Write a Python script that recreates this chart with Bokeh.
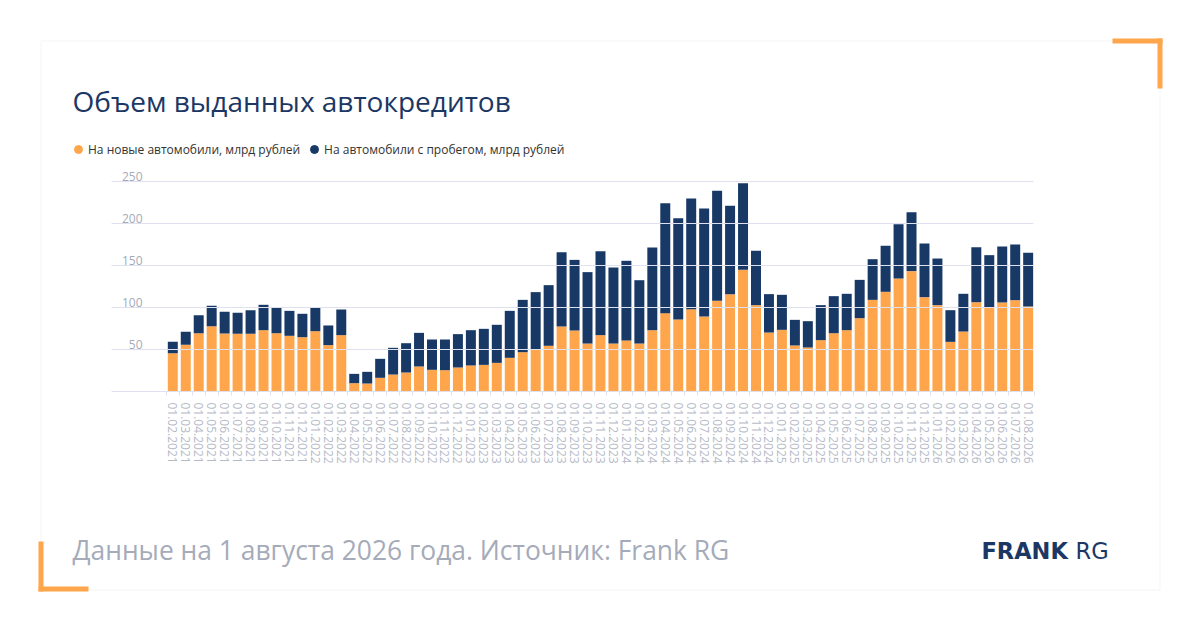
import pandas as pd
from bokeh.plotting import figure
from bokeh.models import (ColumnDataSource, Range1d, LinearAxis, FixedTicker,
                          Label, BoxAnnotation, Legend, LegendItem)
from bokeh.embed import file_html
from bokeh.resources import INLINE

# месяцы 01.02.2021 ... 01.08.2026
months = pd.date_range("2021-02-01", "2026-08-01", freq="MS").strftime("%d.%m.%Y").tolist()

# на новые автомобили, млрд рублей
new_cars = [45.6, 55.6, 69.4, 77.8, 69.0, 68.7, 68.7, 73.0, 69.4, 66.3, 64.7, 71.8, 55.2, 67.1,
            9.9, 9.5, 16.3, 20.2, 22.6, 29.8, 25.8, 25.4, 28.6, 31.0, 31.7, 34.1, 40.1, 46.8,
            50.4, 54.4, 77.4, 72.6, 57.1, 67.1, 57.1, 60.7, 57.1, 73.0, 93.3, 85.7, 98.0, 89.3,
            107.9, 115.9, 144.8, 102.8, 70.2, 73.4, 54.8, 52.4, 61.1, 69.4, 73.0, 87.3, 109.1,
            118.7, 134.5, 143.3, 112.3, 102.8, 59.1, 71.4, 106.3, 100.4, 106.0, 108.7, 101.2]

# на автомобили с пробегом, млрд рублей
used_cars = [13.5, 15.4, 21.5, 24.2, 25.8, 25.0, 28.1, 30.2, 30.2, 29.7, 27.8, 28.2, 23.4, 30.5,
             11.1, 13.9, 22.6, 31.8, 34.9, 40.0, 36.1, 36.5, 39.7, 42.0, 42.9, 45.3, 55.9, 62.3,
             67.9, 72.2, 88.5, 84.1, 85.0, 99.9, 90.5, 94.9, 75.4, 98.4, 130.9, 120.6, 131.8, 128.6,
             131.0, 105.1, 103.2, 64.7, 45.7, 41.7, 30.5, 31.3, 41.7, 44.1, 43.3, 45.6, 48.4,
             54.7, 64.7, 70.2, 63.9, 55.5, 37.7, 44.9, 65.5, 61.9, 66.6, 66.3, 63.9]

y_ticks = [50, 100, 150, 200, 250]
grid_ticks = [0, 50, 100, 150, 200, 250]

ORANGE = "#ffa54b"
NAVY = "#183866"
GRID = "#dfe2ee"
TITLE = "#1c3764"

W, H = 1200, 630
# пикселей на месяц / на млрд, положение первого столбца и нуля
px_x, x0_px = 12.96, 172.3
px_y, y0_px = 0.84, 391
x_start = -x0_px / px_x
x_end = x_start + W / px_x
y_start = -(H - y0_px) / px_y
y_end = y0_px / px_y
grid_left = (111 - x0_px) / px_x      # левый край сетки
grid_len = 922                         # длина линий сетки, px

idx = list(range(len(months)))
source = ColumnDataSource(data={"x": idx, "new": new_cars, "used": used_cars})

p = figure(
    width=W, height=H,
    x_range=Range1d(x_start, x_end),
    y_range=Range1d(y_start, y_end),
    x_axis_location=None, y_axis_location=None,
    output_backend="svg",
    toolbar_location=None,
    min_border=0,
)
p.outline_line_color = None
p.background_fill_color = "white"
p.border_fill_color = "white"
p.grid.visible = False

# линии сетки (тики оси, вытянутые вправо)
gax = LinearAxis(fixed_location=grid_left, ticker=FixedTicker(ticks=grid_ticks))
gax.axis_line_color = None
gax.major_tick_line_color = GRID
gax.major_tick_in = grid_len
gax.major_tick_out = 0
gax.minor_tick_line_color = None
gax.major_label_text_alpha = 0
gax.major_label_text_font_size = "1px"
p.add_layout(gax, "left")

# подписи оси Y чуть выше линий сетки
p.extra_y_ranges = {"lab": Range1d(y_start - 5.4, y_end - 5.4)}
yax = LinearAxis(y_range_name="lab", fixed_location=(142 - x0_px) / px_x,
                 ticker=FixedTicker(ticks=y_ticks))
yax.axis_line_color = None
yax.major_tick_line_color = None
yax.minor_tick_line_color = None
yax.major_tick_out = 0
yax.major_tick_in = 0
yax.major_label_standoff = 0
yax.major_label_text_font = "Open Sans"
yax.major_label_text_font_size = "12px"
yax.major_label_text_color = "#a4aab8"
p.add_layout(yax, "left")

# ось X
xax = LinearAxis(fixed_location=0, bounds=(-0.5, len(idx) - 0.5),
                 ticker=FixedTicker(ticks=idx, minor_ticks=[i + 0.5 for i in range(-1, len(idx))]))
xax.major_label_overrides = {i: m for i, m in enumerate(months)}
xax.major_label_orientation = "vertical"
xax.axis_line_color = None
xax.major_tick_line_color = None
xax.major_tick_out = 0
xax.major_tick_in = 0
xax.minor_tick_line_color = GRID
xax.minor_tick_out = 4
xax.minor_tick_in = 0
xax.major_label_standoff = 7
xax.major_label_text_font = "Open Sans"
xax.major_label_text_font_size = "12px"
xax.major_label_text_color = "#b5bac7"
p.add_layout(xax, "below")

p.vbar_stack(["new", "used"], x="x", width=0.77, source=source,
             color=[ORANGE, NAVY], line_color=None)

# легенда (маркеры-пустышки, точки вне графика не рисуются)
nan = float("nan")
r_new = p.scatter(x=[nan], y=[nan], marker="circle", size=8, color=ORANGE)
r_used = p.scatter(x=[nan], y=[nan], marker="circle", size=8, color=NAVY)
legend = Legend(items=[
    LegendItem(label="На новые автомобили, млрд рублей", renderers=[r_new]),
    LegendItem(label="На автомобили с пробегом, млрд рублей", renderers=[r_used]),
], orientation="horizontal", location=(68, 471))
legend.border_line_color = None
legend.background_fill_alpha = 0
legend.padding = 0
legend.margin = 0
legend.spacing = 4
legend.glyph_width = 20
legend.glyph_height = 20
legend.label_height = 20
legend.label_standoff = 0
legend.label_text_font = "Open Sans"
legend.label_text_font_size = "12px"
legend.label_text_color = "#333333"
p.add_layout(legend)

# карточка и оранжевые уголки
p.add_layout(BoxAnnotation(left=40.5, right=1159.5, top=589.5, bottom=40.5,
                           left_units="screen", right_units="screen",
                           top_units="screen", bottom_units="screen",
                           fill_color=None, line_color="#d9d9d9", line_width=1))
corners = [(1112, 1162, 592, 587), (1157, 1162, 592, 542),
           (38, 43, 89, 39), (38, 88, 44, 39)]
for l, r, t, b in corners:
    p.add_layout(BoxAnnotation(left=l, right=r, top=t, bottom=b,
                               left_units="screen", right_units="screen",
                               top_units="screen", bottom_units="screen",
                               fill_color=ORANGE, fill_alpha=1, line_color=None))

# тексты
p.add_layout(Label(x=72, y=530, x_units="screen", y_units="screen",
                   text="Объем выданных автокредитов", text_font="Open Sans",
                   text_font_size="28px", text_color=TITLE, text_baseline="alphabetic"))
p.add_layout(Label(x=72, y=81, x_units="screen", y_units="screen",
                   text="Данные на 1 августа 2026 года. Источник: Frank RG",
                   text_font="Open Sans", text_font_size="26.4px", text_color="#a5abb9",
                   text_baseline="alphabetic"))
p.add_layout(Label(x=981, y=80, x_units="screen", y_units="screen", text="FRANK",
                   text_font="DejaVu Sans", text_font_style="bold", text_font_size="22.5px",
                   text_color=TITLE, text_baseline="alphabetic"))
p.add_layout(Label(x=1075, y=80, x_units="screen", y_units="screen", text="RG",
                   text_font="DejaVu Sans", text_font_size="22.5px",
                   text_color=TITLE, text_baseline="alphabetic"))

open("out.html", "w").write(file_html(p, INLINE))
